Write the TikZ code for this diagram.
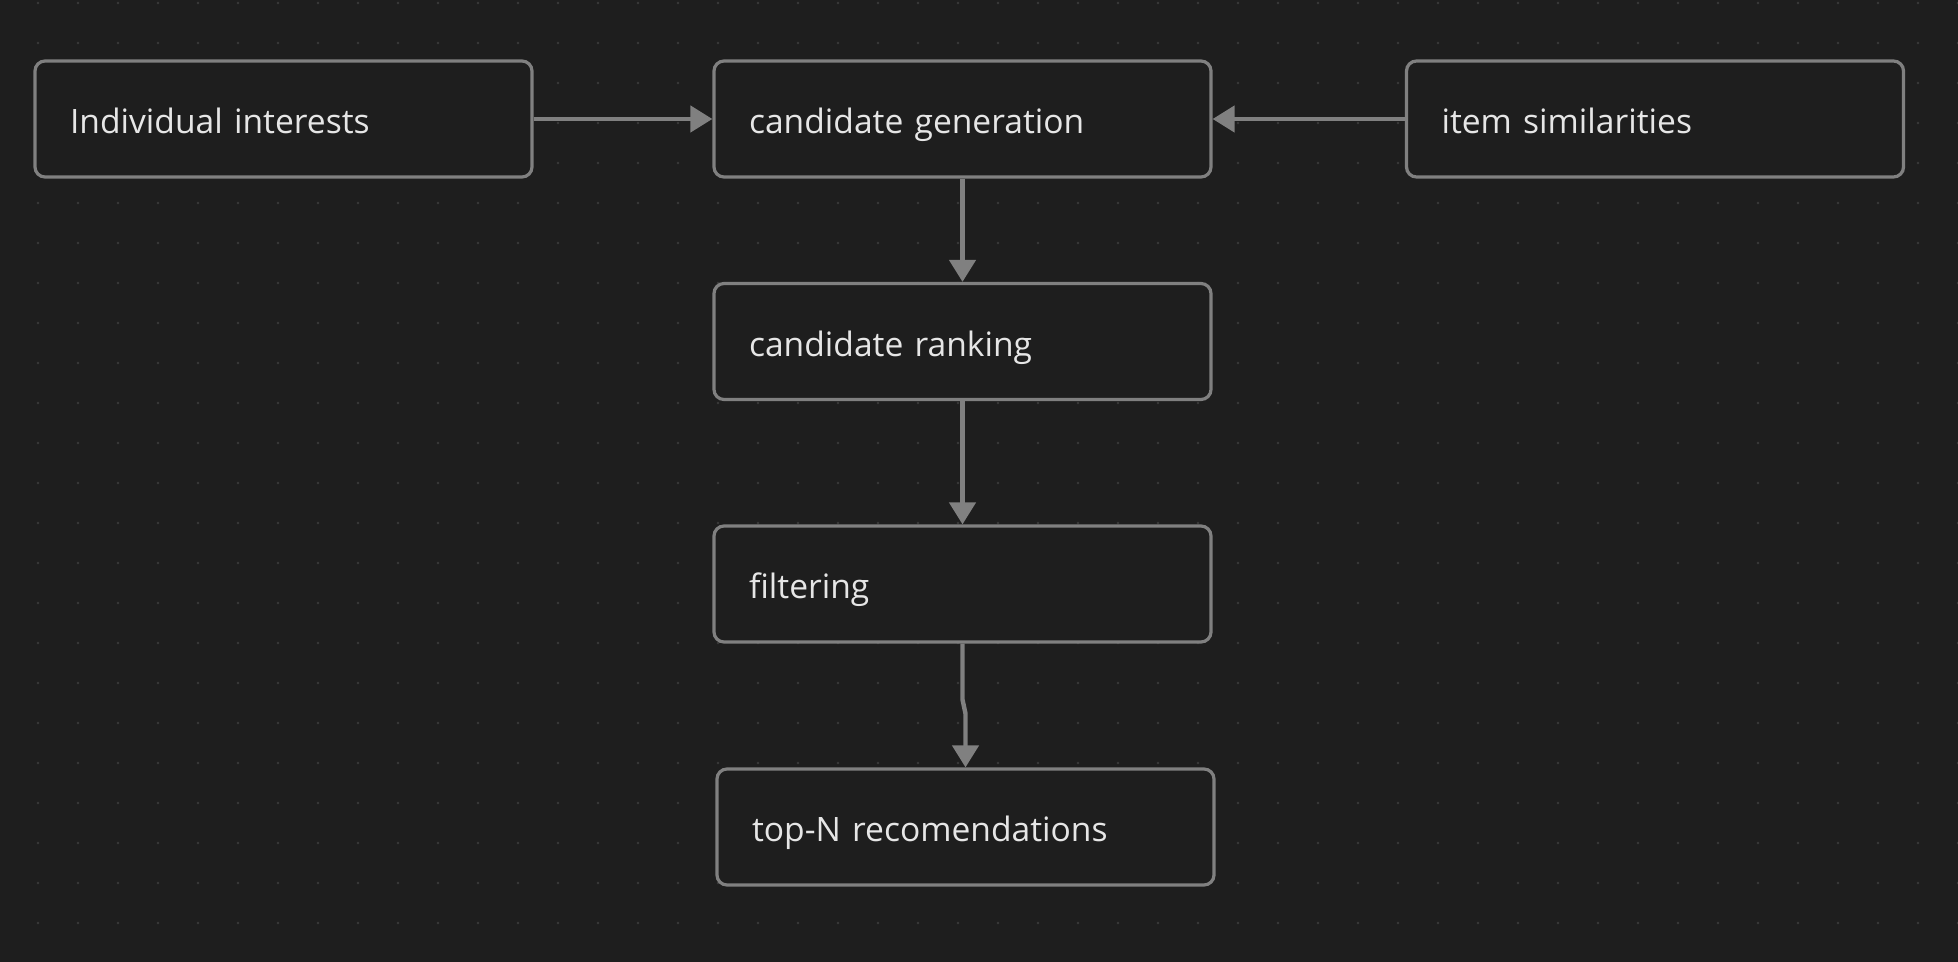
\documentclass[tikz,border=0pt]{standalone}
\usepackage{fontspec}
\setmainfont{Open Sans}
\usetikzlibrary{arrows.meta}
\definecolor{bgc}{HTML}{1E1E1E}
\definecolor{dotc}{HTML}{3A3A3A}
\definecolor{linec}{HTML}{808080}
\definecolor{txtc}{HTML}{E6E6E6}
\tikzset{
  stagebox/.style={draw=linec, fill=bgc, line width=1.6pt, rounded corners=5pt,
    minimum width=248.5pt, minimum height=58pt, inner xsep=17.5pt, inner ysep=0pt,
    text width=213.5pt, text height=16pt, text depth=1.4pt, align=left, text=txtc,
    font=\fontsize{16.8}{19}\selectfont},
  flow/.style={draw=linec, line width=2.2pt, -{Triangle[width=13pt,length=11pt]}}
}
\begin{document}
\begin{tikzpicture}[x=0.5pt,y=-0.5pt]
\fill[bgc] (0,0) rectangle (1958,962);
\useasboundingbox (0,0) rectangle (1958,962);
\foreach \i in {0,...,48}{
  \foreach \j in {0,...,23}{
    \fill[dotc] (38+40*\i, 3+40*\j) circle (1.3);
  }
}
\node[stagebox] (interests) at (283.5,119) {Individual interests};
\node[stagebox] (gen) at (962.5,119) {candidate generation};
\node[stagebox] (sim) at (1655,119) {item similarities};
\node[stagebox] (rank) at (962.5,341.5) {candidate ranking};
\node[stagebox] (filt) at (962.5,584) {filtering};
\node[stagebox] (topn) at (965.5,827) {top-N recomendations};
\draw[flow] (interests.east) -- (gen.west);
\draw[flow] (sim.west) -- (gen.east);
\draw[flow] (gen.south) -- (rank.north);
\draw[flow] (rank.south) -- (filt.north);
\draw[flow] (filt.south) -- ++(0,56) -- ++(3,14) -- (topn.north);
\end{tikzpicture}
\end{document}
